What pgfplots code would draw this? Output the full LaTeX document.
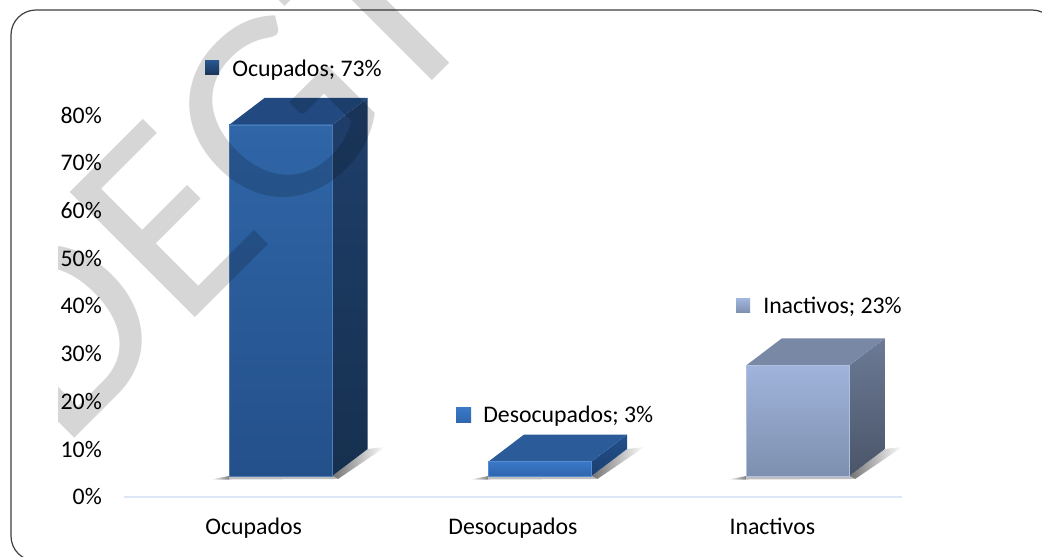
\documentclass[border=0pt]{standalone}
\usepackage{fontspec}
\setmainfont{Carlito}
\usepackage{pgfplots}
\pgfplotsset{compat=1.18}
\definecolor{axisblue}{HTML}{DCE6F5}
\definecolor{otop}{HTML}{224A80}\definecolor{ofa}{HTML}{2F66A8}\definecolor{ofb}{HTML}{24508A}
\definecolor{osa}{HTML}{1F3F6B}\definecolor{osb}{HTML}{16304F}
\definecolor{dtop}{HTML}{2B5C99}\definecolor{dfa}{HTML}{3A78C8}\definecolor{dfb}{HTML}{2F66AE}
\definecolor{dsa}{HTML}{23508C}\definecolor{dsb}{HTML}{1B3F70}
\definecolor{itop}{HTML}{7888A5}\definecolor{ifa}{HTML}{A0B4DC}\definecolor{ifb}{HTML}{7E90AF}
\definecolor{isa}{HTML}{6C7A96}\definecolor{isb}{HTML}{4A5568}
\newcommand{\lab}{\fontsize{23.8pt}{28pt}\selectfont}
\begin{document}
\begin{tikzpicture}[x=1pt,y=1pt]
\useasboundingbox (0,0) rectangle (1042,557);
\clip (0,0) rectangle (1042,557);
\fill[white] (0,0) rectangle (1042,557);
\draw[line width=1.2pt,draw=black!75,rounded corners=25pt] (11,547) rectangle (1057,-4);
% axis with the percent scale and the categories
\begin{axis}[at={(124pt,60.3pt)},anchor=south west,scale only axis,width=778pt,height=381.7pt,
  xmin=-0.5,xmax=2.5,ymin=0,ymax=80,clip=false,
  axis x line*=bottom,axis y line*=left,
  x axis line style={draw=axisblue,line width=2pt},
  y axis line style={draw=none},
  major tick length=0pt,tick style={draw=none},
  xtick={0,1,2},xticklabels={Ocupados,Desocupados,Inactivos},
  ytick={0,10,...,80},
  yticklabel={\pgfmathprintnumber{\tick}\%},
  /pgf/number format/assume math mode=true,
  tick label style={font=\lab,text=black},
  xticklabel style={anchor=base,yshift=-38pt},
  yticklabel style={anchor=east,xshift=-18.7pt},
]
\addplot[draw=none] coordinates {(0,0)};
\end{axis}
% axis of the 3-D columns, its zero on the floor of the columns
\begin{axis}[at={(124pt,81pt)},anchor=south west,scale only axis,width=778pt,height=384.8pt,
  xmin=-0.5,xmax=2.5,ymin=0,ymax=80,clip=false,axis lines=none]
% shadows
\addplot[draw=none,left color=black!55,right color=white] coordinates {(0.3023,0)(0.44,5.61)(0.5067,6.03)(0.3255,-0.62)(0.3023,0)};
\addplot[draw=none,left color=black!55,right color=white] coordinates {(1.3023,0)(1.44,5.61)(1.5067,6.03)(1.3255,-0.62)(1.3023,0)};
\addplot[draw=none,left color=black!55,right color=white] coordinates {(2.2963,0)(2.434,5.61)(2.5007,6.03)(2.3195,-0.62)(2.2963,0)};
\addplot[draw=none,left color=white,right color=black!50] coordinates {(-0.1643,-0.73)(-0.0949,-0.73)(-0.0949,0)(-0.1643,-0.73)};
\addplot[draw=none,left color=white,right color=black!50] coordinates {(0.8357,-0.73)(0.9051,-0.73)(0.9051,0)(0.8357,-0.73)};
\addplot[draw=none,left color=white,right color=black!50] coordinates {(1.8297,-0.73)(1.8991,-0.73)(1.8991,0)(1.8297,-0.73)};
\addplot[draw=none,fill=black!25] coordinates {(-0.0949,-0.73)(0.3255,-0.62)(0.3023,0)(-0.0949,0)};
\addplot[draw=none,fill=black!25] coordinates {(0.9051,-0.73)(1.3255,-0.62)(1.3023,0)(0.9051,0)};
\addplot[draw=none,fill=black!25] coordinates {(1.8991,-0.73)(2.3195,-0.62)(2.2963,0)(1.8991,0)};
% side faces
\addplot[draw=none,top color=osa,bottom color=osb] coordinates {(0.3027,0)(0.4396,5.61)(0.4396,78.61)(0.3027,73)(0.3027,0)};
\addplot[draw=none,top color=dsa,bottom color=dsb] coordinates {(1.3027,0)(1.4396,5.61)(1.4396,8.61)(1.3027,3)(1.3027,0)};
\addplot[draw=none,top color=isa,bottom color=isb] coordinates {(2.2967,0)(2.4336,5.61)(2.4336,28.61)(2.2967,23)(2.2967,0)};
% top faces
\addplot[draw=none,fill=otop] coordinates {(-0.0945,73)(0.3027,73)(0.4396,78.61)(0.0424,78.61)(-0.0945,73)};
\addplot[draw=none,fill=dtop] coordinates {(0.9055,3)(1.3027,3)(1.4396,8.61)(1.0424,8.61)(0.9055,3)};
\addplot[draw=none,fill=itop] coordinates {(1.8995,23)(2.2967,23)(2.4336,28.61)(2.0364,28.61)(1.8995,23)};
% front faces
\addplot[ybar,bar width=103pt,bar shift=27pt,draw=ofa!85!white,line width=0.4pt,top color=ofa,bottom color=ofb] coordinates {(0,73)};
\addplot[ybar,bar width=103pt,bar shift=27pt,draw=dfa!85!white,line width=0.4pt,top color=dfa,bottom color=dfb] coordinates {(1,3)};
\addplot[ybar,bar width=103pt,bar shift=25.5pt,draw=ifa!85!white,line width=0.4pt,top color=ifa,bottom color=ifb] coordinates {(2,23)};
% data-label keys and texts
\addplot[draw=none,top color=ofa,bottom color=osa] coordinates {(-0.1874,86.3)(-0.1334,86.3)(-0.1334,83.4)(-0.1874,83.4)(-0.1874,86.3)};
\addplot[draw=none,top color=dfa,bottom color=dfb] coordinates {(0.7805,14.2)(0.8383,14.2)(0.8383,11.2)(0.7805,11.2)(0.7805,14.2)};
\addplot[draw=none,top color=ifa,bottom color=ifb] coordinates {(1.8602,36.8)(1.9142,36.8)(1.9142,33.9)(1.8602,33.9)(1.8602,36.8)};
\node[anchor=west,inner sep=0pt,font=\lab] at (axis cs:-0.0833,84.4) {Ocupados; 73\%};
\node[anchor=west,inner sep=0pt,font=\lab] at (axis cs:0.8846,12.5) {Desocupados; 3\%};
\node[anchor=west,inner sep=0pt,font=\lab] at (axis cs:1.9642,35.1) {Inactivos; 23\%};
\end{axis}
% watermark
\begin{scope}
\clip (58,0) rectangle (1042,557);
\node[rotate=45,anchor=base east,inner sep=0pt,text=black,opacity=0.16,font=\fontsize{276pt}{300pt}\selectfont] at (489,533) {DEG\kern-5pt T};
\end{scope}
\end{tikzpicture}
\end{document}
